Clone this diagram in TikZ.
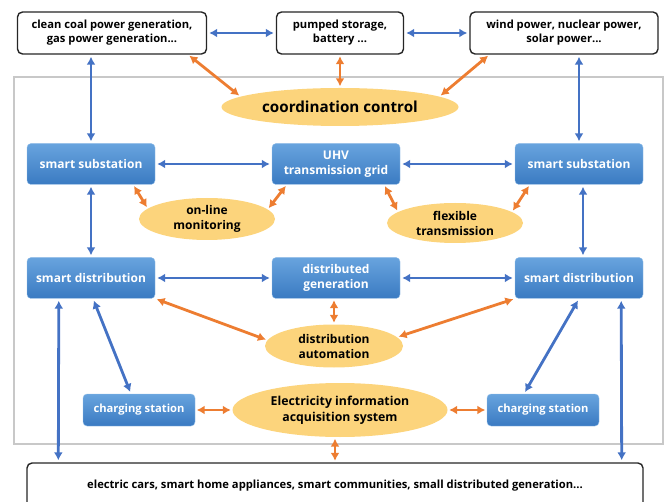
\documentclass[tikz,border=0pt]{standalone}
\usepackage{fontspec}
\setmainfont{Open Sans}
\usepackage{tikz}
\usetikzlibrary{arrows.meta,shapes.geometric}
\definecolor{linkblue}{RGB}{68,114,196}
\definecolor{linkorange}{RGB}{237,125,49}
\definecolor{boxtop}{RGB}{104,164,222}
\definecolor{boxbot}{RGB}{58,122,194}
\definecolor{ellfill}{RGB}{252,212,124}
\definecolor{framegray}{RGB}{200,200,200}

\begin{document}
\begin{tikzpicture}[x=1pt,y=-1pt,
src/.style={draw=black!85,line width=1.4pt,rounded corners=5pt,fill=white,align=center,
font=\fontsize{11.2}{14}\selectfont\bfseries,minimum height=42pt,inner sep=2pt},
unit/.style={rounded corners=4pt,top color=boxtop,bottom color=boxbot,draw=boxtop!70,
text=white,align=center,font=\fontsize{12}{15.5}\selectfont\bfseries,minimum width=128pt,
minimum height=41pt,inner sep=1pt},
func/.style={ellipse,fill=ellfill,align=center,font=\fontsize{12}{15}\selectfont\bfseries,
inner sep=0pt},
barr/.style={{Latex[length=8pt,width=9pt]}-{Latex[length=8pt,width=9pt]},line width=2.8pt,
draw=linkblue,shorten <=2pt,shorten >=2pt},
oarr/.style={{Latex[length=8pt,width=9pt]}-{Latex[length=8pt,width=9pt]},line width=2.8pt,
draw=linkorange,shorten <=1.5pt,shorten >=1.5pt}]
\clip (0,0) rectangle (666,502);
\draw[framegray,line width=1.5pt] (14,77) rectangle (663,444);
% sources
\node[src,minimum width=189pt] (coal) at (112,33) {clean coal power generation,\\gas power generation...};
\node[src,minimum width=127pt] (store) at (340,33) {pumped storage,\\battery ...};
\node[src,minimum width=188pt] (wind) at (564,33) {wind power, nuclear power,\\solar power...};
\node[func,minimum width=237pt,minimum height=38pt,font=\fontsize{15.2}{18}\selectfont\bfseries] (coord) at (340,107) {coordination control};
% grid units
\node[unit] (subL) at (91,164) {smart substation};
\node[unit] (uhv) at (336,164) {UHV\\transmission grid};
\node[unit] (subR) at (579,164) {smart substation};
\node[func,minimum width=136pt,minimum height=42pt] (mon) at (207,219) {on-line\\monitoring};
\node[func,minimum width=136pt,minimum height=40pt] (flex) at (455,223) {flexible\\transmission};
\node[unit] (distL) at (91,278) {smart distribution};
\node[unit] (dg) at (336,278) {distributed\\generation};
\node[unit] (distR) at (579,278) {smart distribution};
\node[func,minimum width=138pt,minimum height=43pt] (auto) at (334,346) {distribution\\automation};
\node[func,minimum width=215pt,minimum height=54pt,font=\fontsize{12.3}{16}\selectfont\bfseries] (eias) at (340,410) {Electricity information\\acquisition system};
\node[unit,minimum width=112pt,minimum height=32pt,font=\fontsize{11.2}{13}\selectfont\bfseries] (csL) at (139,410) {charging station};
\node[unit,minimum width=112pt,minimum height=32pt,font=\fontsize{11.2}{13}\selectfont\bfseries] (csR) at (543,410) {charging station};
\node[src,minimum width=616pt,minimum height=60pt,text depth=18pt,font=\fontsize{11.2}{13}\selectfont\bfseries] (users) at (335,493) {electric cars, smart home appliances, smart communities, small distributed generation...};
% blue links
\draw[barr] (coal)--(store);\draw[barr] (store)--(wind);
\draw[barr] (coal.south -| subL.north)--(subL.north);
\draw[barr] (wind.south -| subR.north)--(subR.north);
\draw[barr] (subL)--(uhv);\draw[barr] (uhv)--(subR);
\draw[barr] (subL)--(distL);\draw[barr] ([xshift=4pt]subR.south)--([xshift=4pt]distR.north);
\draw[barr] (distL)--(dg);\draw[barr] (dg)--(distR);
\draw[barr] ([xshift=2pt]distL.south)--([xshift=-8pt]csL.north);
\draw[barr] (distR.south)--([xshift=-19pt]csR.north);
\draw[barr] ([xshift=32pt]distL.south west)--([xshift=32pt]users.north west);
\draw[barr] ([xshift=-22pt]distR.south east)--([xshift=-22pt]users.north east);
% orange links
\draw[oarr] ([xshift=-19pt]coal.south east)--(coord.174);
\draw[oarr] (store)--(coord);
\draw[oarr] ([xshift=20pt]wind.south west)--(coord.6);
\draw[oarr] ([xshift=-22pt]subL.south east)--(mon.170);
\draw[oarr] ([xshift=15pt]uhv.south west)--(mon.9);
\draw[oarr] ([xshift=-16pt]uhv.south east)--(flex.169);
\draw[oarr] ([xshift=15pt]subR.south west)--(flex.11);
\draw[oarr] (distL.south east)--(auto.175);
\draw[oarr] (dg.south -| auto.north)--(auto.north);
\draw[oarr] (distR.south west)--(auto.8);
\draw[oarr] (csL)--(eias);\draw[oarr] (eias)--(csR);
\draw[oarr] (eias.south -| users.north)--(users.north);
\end{tikzpicture}
\end{document}
